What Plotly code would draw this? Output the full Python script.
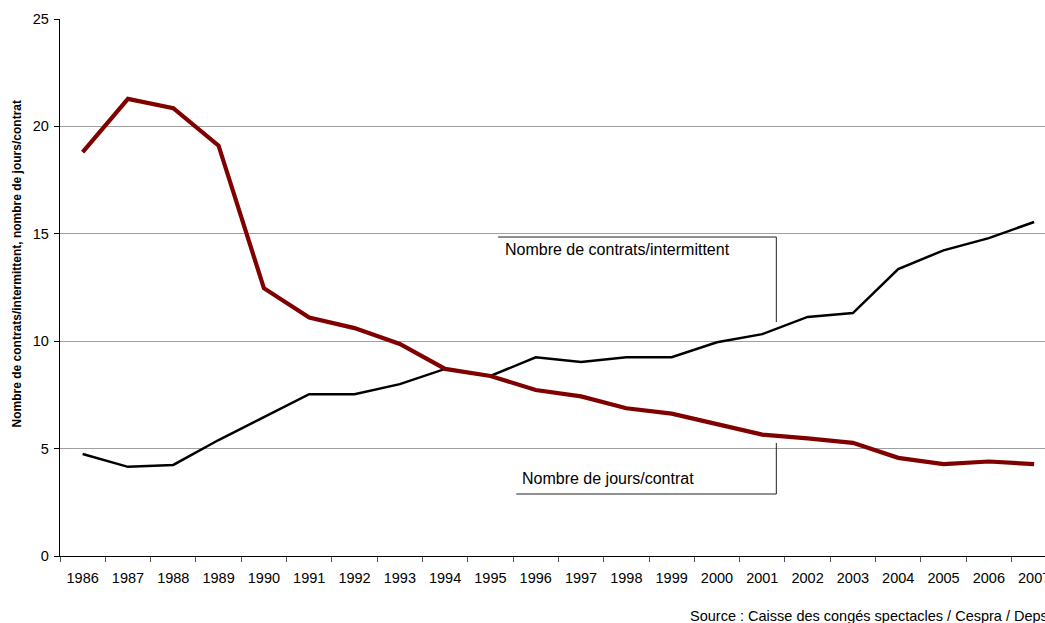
import plotly.graph_objects as go

years = [str(y) for y in range(1986, 2008)]
jours_contrat = [18.8, 21.28, 20.85, 19.1, 12.47, 11.1, 10.61, 9.87, 8.71, 8.38, 7.73,
                 7.43, 6.88, 6.63, 6.14, 5.65, 5.48, 5.27, 4.57, 4.28, 4.40, 4.28]
contrats_intermittent = [4.75, 4.15, 4.24, 5.4, 6.46, 7.53, 7.53, 8.0, 8.71, 8.38, 9.25,
                         9.03, 9.25, 9.25, 9.95, 10.33, 11.13, 11.31, 13.36, 14.23, 14.8, 15.55]
y_ticks = [0, 5, 10, 15, 20, 25]

label_contrats = "Nombre de contrats/intermittent"
label_jours = "Nombre de jours/contrat"
y_title = "Nombre de contrats/intermittent, nombre de jours/contrat"
source = "Source : Caisse des congés spectacles / Cespra / Deps"

FONT = "Liberation Sans, Arial, sans-serif"

fig = go.Figure()
fig.add_trace(go.Scatter(x=years, y=contrats_intermittent, mode="lines",
                         line=dict(color="#000000", width=2.5), name=label_contrats))
fig.add_trace(go.Scatter(x=years, y=jours_contrat, mode="lines",
                         line=dict(color="#800000", width=4.2), name=label_jours))

# callout lines
fig.add_shape(type="path", path="M 9.17 14.85 L 15.31 14.85 L 15.31 10.89",
              xref="x", yref="y", line=dict(color="#222222", width=1))
fig.add_shape(type="path", path="M 9.57 2.886 L 15.31 2.886 L 15.31 5.26",
              xref="x", yref="y", line=dict(color="#222222", width=1))

fig.add_annotation(x=9.28, y=14.29, xref="x", yref="y", text=label_contrats,
                   showarrow=False, xanchor="left", yanchor="middle",
                   font=dict(family=FONT, size=16, color="#000"))
fig.add_annotation(x=9.66, y=3.585, xref="x", yref="y", text=label_jours,
                   showarrow=False, xanchor="left", yanchor="middle",
                   font=dict(family=FONT, size=16, color="#000"))

fig.add_annotation(x=0, y=0.543, xref="paper", yref="paper", xshift=-43,
                   text="<b>" + y_title + "</b>", textangle=-90, showarrow=False,
                   xanchor="center", yanchor="middle",
                   font=dict(family=FONT, size=12, color="#000"))
fig.add_annotation(x=(688 - 60) / 985, y=0, xref="paper", yref="paper", yshift=-60,
                   text=source, showarrow=False, xanchor="left", yanchor="middle",
                   font=dict(family=FONT, size=14.5, color="#000"))

fig.update_layout(
    width=1045, height=623,
    margin=dict(l=60, r=0, t=19, b=67),
    paper_bgcolor="white", plot_bgcolor="white",
    showlegend=False,
    font=dict(family=FONT, size=14, color="#000"),
)
fig.update_xaxes(type="category", range=[-0.5, 21.24], tickson="boundaries",
                 automargin=False,
                 ticks="outside", ticklen=5, tickcolor="#555555", tickwidth=1,
                 ticklabelstandoff=8,
                 showline=True, linecolor="#000000", linewidth=1.3,
                 showgrid=False, zeroline=False,
                 tickfont=dict(family=FONT, size=14.5, color="#000"))
fig.update_yaxes(range=[0, 25], tickvals=y_ticks, ticks="outside", ticklen=5,
                 automargin=False, ticklabelstandoff=2,
                 tickcolor="#000000", showline=True, linecolor="#000000", linewidth=1.3,
                 showgrid=True, gridcolor="#a0a0a0", gridwidth=1, zeroline=False,
                 tickfont=dict(family=FONT, size=14.5, color="#000"))

fig.write_html("out.html", config={"displayModeBar": False},
               post_script="document.body.style.margin='0';document.body.style.overflow='hidden';")
